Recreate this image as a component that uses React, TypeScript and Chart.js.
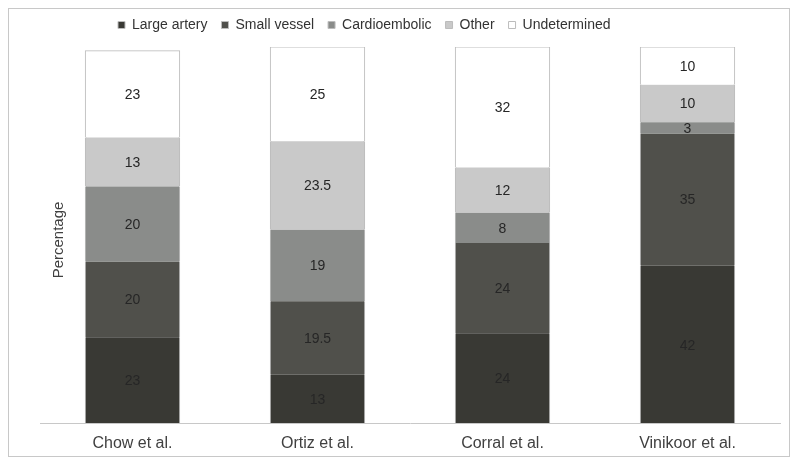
import React, { useEffect, useRef } from "react";
import { Chart, registerables } from "chart.js";

Chart.register(...registerables);

const categories = ["Chow et al.", "Ortiz et al.", "Corral et al.", "Vinikoor et al."];
const seriesNames = ["Large artery", "Small vessel", "Cardioembolic", "Other", "Undetermined"];
const largeArtery = [23, 13, 24, 42];
const smallVessel = [20, 19.5, 24, 35];
const cardioembolic = [20, 19, 8, 3];
const other = [13, 23.5, 12, 10];
const undetermined = [23, 25, 32, 10];
const seriesColors = ["#393934", "#50504b", "#8a8c8a", "#c9c9c9", "#ffffff"];

const FONT = "'Liberation Sans', Arial, sans-serif";

export default function App() {
  const ref = useRef<HTMLCanvasElement | null>(null);

  useEffect(() => {
    if (!ref.current) return;
    const values = [largeArtery, smallVessel, cardioembolic, other, undetermined];

    const labelPlugin = {
      id: "segLabels",
      afterDatasetsDraw(chart: any) {
        const ctx = chart.ctx;
        ctx.save();
        ctx.font = `14px ${FONT}`;
        ctx.fillStyle = "#262626";
        ctx.textAlign = "center";
        ctx.textBaseline = "middle";
        chart.data.datasets.forEach((ds: any, di: number) => {
          const meta = chart.getDatasetMeta(di);
          meta.data.forEach((el: any, i: number) => {
            const v = ds.data[i];
            ctx.fillText(String(v), el.x, (el.y + el.base) / 2 + 1);
          });
        });
        ctx.restore();
      },
    };

    const titlePlugin = {
      id: "yTitle",
      beforeInit(chart: any) {
        const lg = chart.legend;
        if (lg && !lg.__wrapped) {
          const orig = lg.fit.bind(lg);
          lg.fit = function () {
            orig();
            this.height += 5;
          };
          lg.__wrapped = true;
        }
      },
      afterLayout(chart: any) {
        if (chart.legend) {
          const w = chart.legend.width;
          chart.legend.left = 95;
          chart.legend.right = 95 + w;
        }
      },
      afterDraw(chart: any) {
        const ctx = chart.ctx;
        ctx.save();
        ctx.translate(50, 231);
        ctx.rotate(-Math.PI / 2);
        ctx.font = `15px ${FONT}`;
        ctx.fillStyle = "#404040";
        ctx.textAlign = "center";
        ctx.textBaseline = "middle";
        ctx.fillText("Percentage", 0, 0);
        ctx.restore();
      },
    };

    const chart = new Chart(ref.current, {
      type: "bar",
      data: {
        labels: categories,
        datasets: seriesNames.map((name, i) => ({
          label: name,
          data: values[i],
          backgroundColor: seriesColors[i],
          borderColor: "#bcbcbc",
          borderWidth: { left: 1, right: 1, top: i === seriesNames.length - 1 ? 1 : 0, bottom: 0 },
          borderSkipped: false,
          inflateAmount: 0.5,
          categoryPercentage: 1,
          barPercentage: 0.51,
        })),
      },
      options: {
        responsive: true,
        maintainAspectRatio: false,
        animation: false,
        layout: { padding: { top: -5, left: 31, right: 9, bottom: -7 } },
        plugins: {
          legend: {
            position: "top",
            align: "start",
            labels: {
              boxWidth: 7,
              boxHeight: 7,
              padding: 14,
              color: "#333333",
              font: { size: 14, family: FONT },
              generateLabels(chart: any) {
                return chart.data.datasets.map((ds: any, i: number) => ({
                  text: ds.label,
                  fillStyle: ds.backgroundColor,
                  strokeStyle: "#bcbcbc",
                  lineWidth: 1,
                  fontColor: "#333333",
                  hidden: false,
                  datasetIndex: i,
                }));
              },
            },
          },
          tooltip: { enabled: false },
        },
        scales: {
          x: {
            stacked: true,
            grid: { display: false, drawTicks: false },
            border: { display: true, color: "#c8c8c8", width: 1, z: 1 },
            ticks: { color: "#404040", padding: 10, font: { size: 16, family: FONT } },
          },
          y: {
            stacked: true,
            display: false,
            min: 0,
            max: 100,
          },
        },
      },
      plugins: [labelPlugin, titlePlugin],
    });
    return () => chart.destroy();
  }, []);

  return (
    <div
      style={{
        width: 782,
        height: 449,
        border: "1px solid #c8c8c8",
        boxSizing: "border-box",
        background: "#ffffff",
      }}
    >
      <div style={{ position: "relative", width: 780, height: 447 }}>
        <canvas ref={ref} />
      </div>
    </div>
  );
}
